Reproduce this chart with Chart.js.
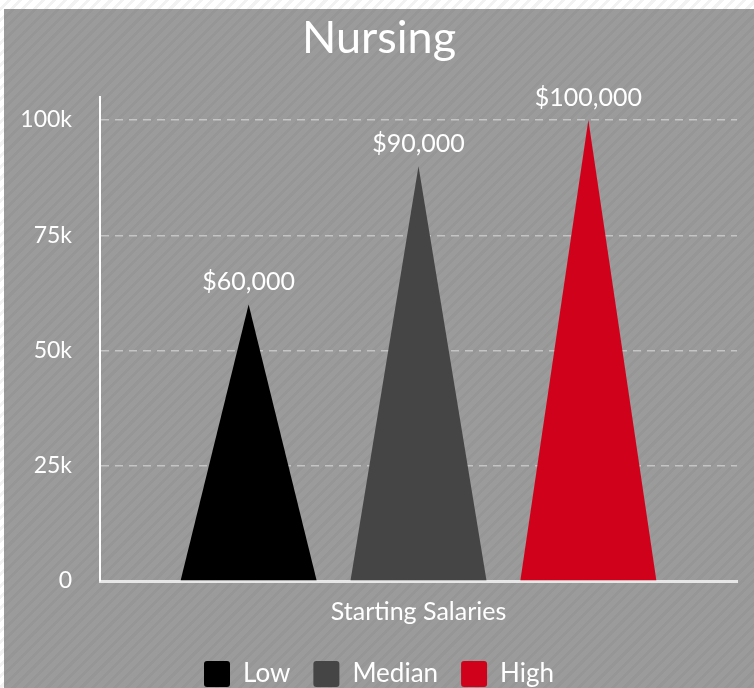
<!DOCTYPE html>
<html>
<head>
  <meta charset="UTF-8">
  <title>Nursing</title>
  <script src="https://cdn.jsdelivr.net/npm/chart.js@4.4.1/dist/chart.umd.min.js"></script>
  <style>
    body {
      margin: 0;
      padding: 0;
      background: repeating-linear-gradient(135deg, #ffffff 0px, #ffffff 5px, #f2f2f2 5px, #f2f2f2 8px);
      width: 754px;
      height: 688px;
      overflow: hidden;
      font-family: Lato, sans-serif;
    }
    .box {
      position: absolute;
      left: 4px;
      top: 9px;
      width: 750px;
      height: 679px;
      background: repeating-linear-gradient(135deg, #9b9b9b 0px, #9b9b9b 5px, #969696 5px, #969696 8px);
    }
  </style>
</head>
<body>
  <div class="box"><canvas id="chart"></canvas></div>

  <script>
    const categories = ['Starting Salaries'];
    const seriesNames = ['Low', 'Median', 'High'];
    const salaries = [60000, 90000, 100000];
    const seriesColors = ['#000000', '#454545', '#d0021b'];
    const yTicks = [0, 25000, 50000, 75000, 100000];

    // draw each bar as a triangle, base = bar width, apex = value
    const triangleBars = {
      id: 'triangleBars',
      beforeDatasetDraw(chart, args) {
        const ctx = chart.ctx;
        args.meta.data.forEach(bar => {
          const { x, y, base, width } = bar.getProps(['x', 'y', 'base', 'width'], true);
          ctx.save();
          ctx.fillStyle = bar.options.backgroundColor;
          ctx.beginPath();
          ctx.moveTo(x - width / 2, base);
          ctx.lineTo(x, y);
          ctx.lineTo(x + width / 2, base);
          ctx.closePath();
          ctx.fill();
          ctx.restore();
        });
        return false;
      },
      afterDatasetsDraw(chart) {
        const ctx = chart.ctx;
        ctx.save();
        ctx.fillStyle = '#ffffff';
        ctx.font = '25px Lato';
        ctx.textAlign = 'center';
        ctx.textBaseline = 'bottom';
        chart.data.datasets.forEach((ds, i) => {
          chart.getDatasetMeta(i).data.forEach((bar, j) => {
            const label = '$' + ds.data[j].toLocaleString('en-US');
            ctx.fillText(label, bar.x, bar.y - 10);
          });
        });
        ctx.restore();
      }
    };

    const datasets = seriesNames.map((name, i) => ({
      label: name,
      data: [salaries[i]],
      backgroundColor: seriesColors[i],
      borderWidth: 0,
      categoryPercentage: 0.8,
      barPercentage: 0.8
    }));

    new Chart(document.getElementById('chart'), {
      type: 'bar',
      data: { labels: categories, datasets: datasets },
      plugins: [triangleBars],
      options: {
        responsive: true,
        maintainAspectRatio: false,
        animation: false,
        layout: { padding: { left: 0, right: 0, bottom: -9 } },
        plugins: {
          title: {
            display: true,
            text: 'Nursing',
            color: '#ffffff',
            font: { family: 'Lato', size: 45, weight: 'normal' },
            padding: { top: 2, bottom: 32 }
          },
          legend: {
            position: 'bottom',
            labels: {
              color: '#ffffff',
              font: { family: 'Lato', size: 26 },
              boxWidth: 26,
              boxHeight: 26,
              useBorderRadius: true,
              borderRadius: 3,
              padding: 23
            }
          },
          tooltip: { enabled: false }
        },
        scales: {
          x: {
            afterFit(scale) {
              scale.height = 57;
            },
            grid: { display: false },
            border: { display: true, color: '#e6e6e6', width: 3 },
            ticks: { color: '#ffffff', font: { family: 'Lato', size: 25 }, padding: 8 }
          },
          y: {
            min: 0,
            max: 105000,
            afterBuildTicks(scale) {
              scale.ticks = yTicks.map(v => ({ value: v }));
            },
            afterFit(scale) {
              scale.width = 96;
            },
            grid: { color: '#c4c4c4', lineWidth: 1.5, drawTicks: false },
            border: { display: true, color: '#ffffff', width: 2, dash: [8, 6] },
            ticks: {
              color: '#ffffff',
              font: { family: 'Lato', size: 23 },
              padding: 28,
              callback: v => v === 0 ? '0' : (v / 1000) + 'k'
            }
          },
          // empty right margin so title and legend centre on the full width
          spacer: {
            position: 'right',
            afterFit(scale) {
              scale.width = 17;
            },
            grid: { display: false },
            border: { display: false },
            ticks: { display: false }
          }
        }
      }
    });
  </script>
</body>
</html>
